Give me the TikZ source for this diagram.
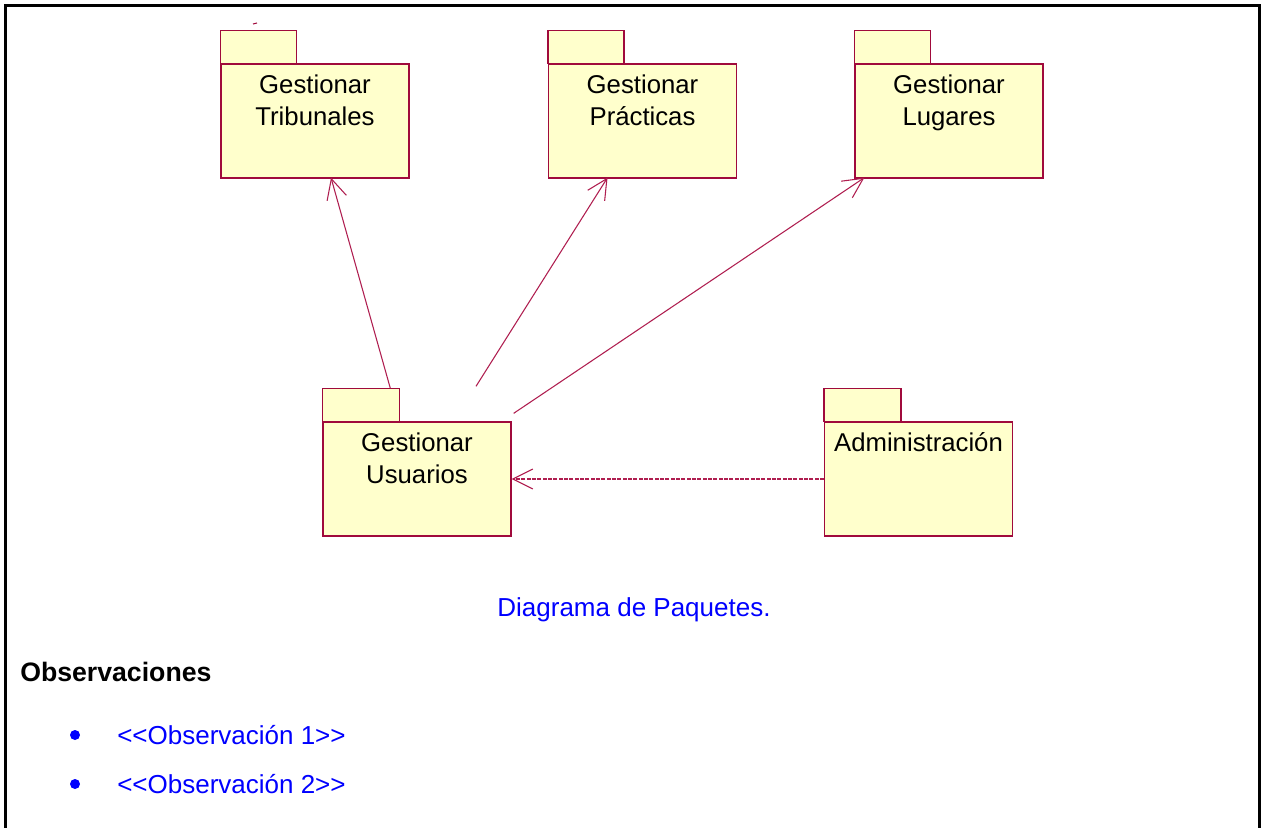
\documentclass[tikz,border=0pt]{standalone}
\usepackage{fontspec}
\setmainfont{Liberation Sans}
\usetikzlibrary{arrows.meta,positioning,calc}
\definecolor{pkgfill}{RGB}{255,255,204}
\definecolor{pkgline}{RGB}{160,10,60}
\definecolor{linkline}{RGB}{175,30,80}
\definecolor{capblue}{RGB}{0,0,255}

\begin{document}
\begin{tikzpicture}[x=0.75pt,y=-0.75pt,
    pkg/.style={draw=pkgline, line width=1pt, fill=pkgfill, minimum width=141pt, minimum height=85.5pt, inner sep=0pt},
    pkgtab/.style={draw=pkgline, line width=1pt, fill=pkgfill},
    pkgtext/.style={anchor=north, align=center, inner xsep=0pt, inner ysep=8.3pt, font=\fontsize{19.3}{24.3}\selectfont},
    uses/.style={draw=linkline, line width=0.8pt, -{Straight Barb[length=15pt,width=15pt]}},
    dep/.style={uses, dash pattern=on 3pt off 1pt},
    txt/.style={inner sep=0pt, font=\fontsize{19.5}{24}\selectfont},
    bullet/.style={circle, fill=capblue, minimum size=7.5pt, inner sep=0pt}]
        \useasboundingbox (0,0) rectangle (1268,828);
        % page frame
        \draw[line width=2.25pt] (5,832) -- (5,5) -- (1259,5) -- (1259,832);
        \draw[pkgline, line width=0.8pt] (253,24) -- (257,23);

        % packages
        \node[pkg] (trib) at (315,121) {};
        \draw[pkgtab] (trib.north west) rectangle ++(76,-33);
        \node[pkgtext] (tribtxt) at (trib.north) {Gestionar\\Tribunales};

        \node[pkg] (prac) at (642.5,121) {};
        \draw[pkgtab] (prac.north west) rectangle ++(76,-33);
        \node[pkgtext] (practxt) at (prac.north) {Gestionar\\Prácticas};

        \node[pkg] (lug) at (949,121) {};
        \draw[pkgtab] (lug.north west) rectangle ++(76,-33);
        \node[pkgtext] (lugtxt) at (lug.north) {Gestionar\\Lugares};

        \node[pkg] (usu) at (417,479) {};
        \draw[pkgtab] (usu.north west) rectangle ++(77,-33);
        \node[pkgtext] (usutxt) at (usu.north) {Gestionar\\Usuarios};

        \node[pkg] (adm) at (918.5,479) {};
        \draw[pkgtab] (adm.north west) rectangle ++(77,-33);
        \node[pkgtext] (admtxt) at (adm.north) {Administración};

        % dependencies
        \draw[uses] ($(usu.north west)+(68,-33)$) -- ($(trib.south)+(16,-1)$);
        \draw[uses] ($(usu.north)+(59,-35)$) -- ($(prac.south)+(-35,-1)$);
        \draw[uses] ($(usu.north east)+(2,-8)$) -- ($(lug.south west)+(10,-1)$);
        \draw[dep] (adm.west) -- (usu.east);

        % caption and notes
        \node[txt, text=capblue] (caption) at (634,610) {Diagrama de Paquetes.};
        \node[txt, anchor=west, font=\fontsize{20}{24}\selectfont\bfseries] (obs) at (20,672) {Observaciones};
        \node[bullet] (b1) at (75,735) {};
        \node[txt, anchor=west, text=capblue] (obs1) at (117,735) {<{}<Observación 1>{}>};
        \node[bullet] (b2) at (75,784) {};
        \node[txt, anchor=west, text=capblue] (obs2) at (117,784) {<{}<Observación 2>{}>};
\end{tikzpicture}
\end{document}
